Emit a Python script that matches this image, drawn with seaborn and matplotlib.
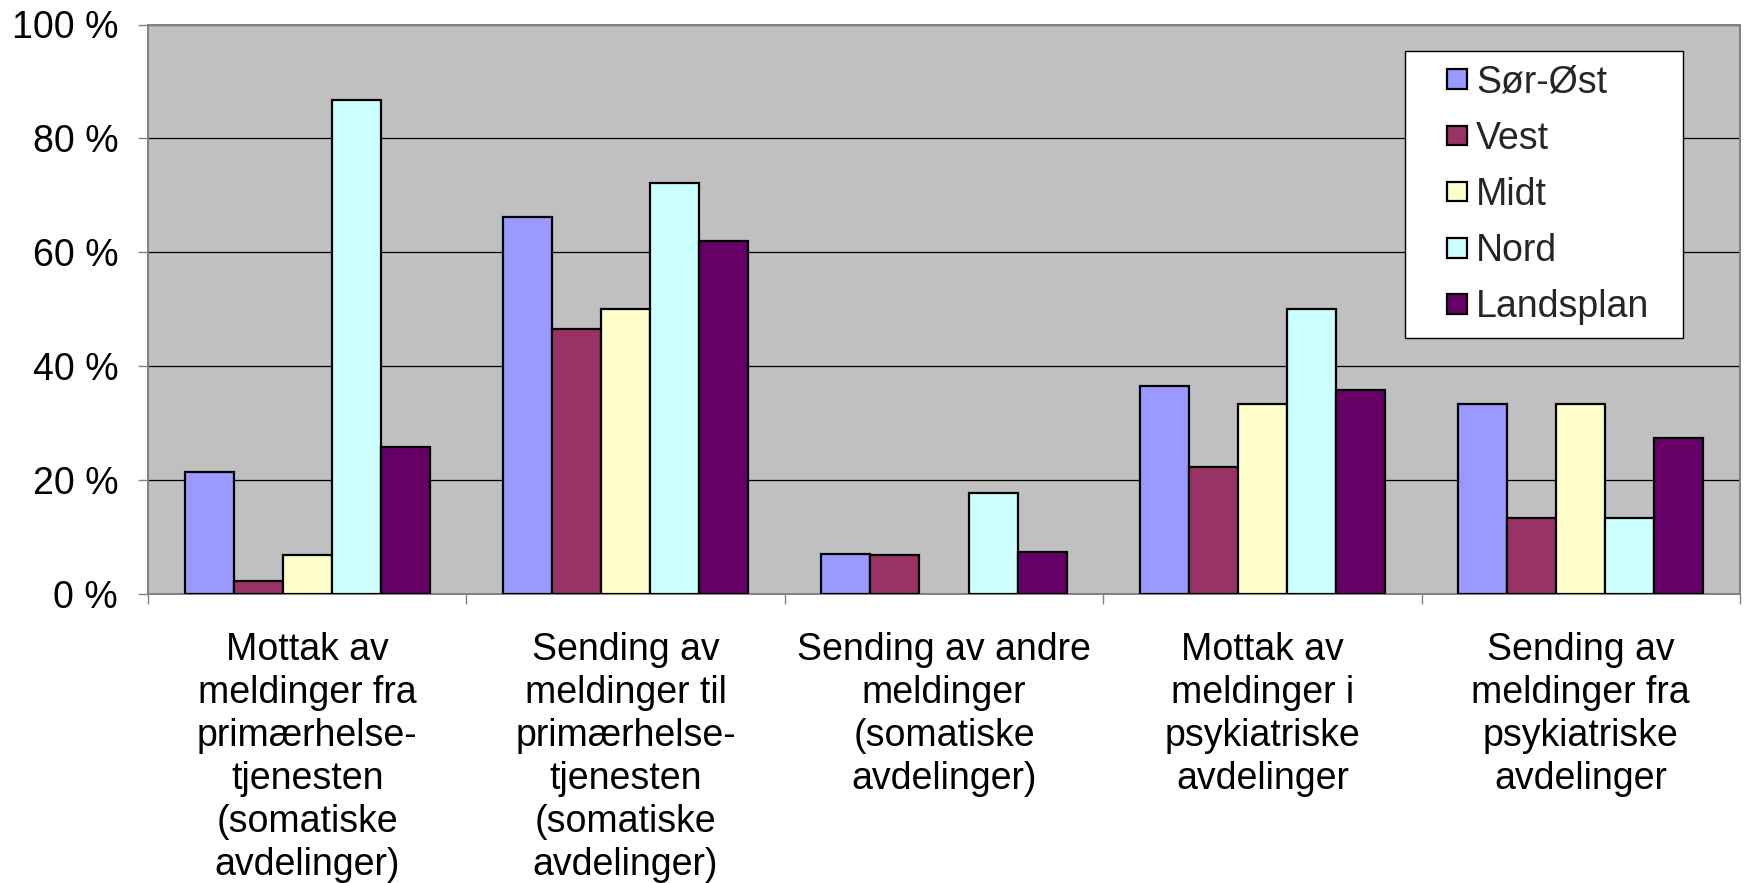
import matplotlib
matplotlib.use("Agg")
import matplotlib.pyplot as plt
from matplotlib.ticker import FixedLocator, FuncFormatter
from matplotlib.patches import Patch, Rectangle
from matplotlib.legend_handler import HandlerPatch
from matplotlib.container import BarContainer
import seaborn as sns
import pandas as pd

categories = [
    "Mottak av\nmeldinger fra\nprimærhelse-\ntjenesten\n(somatiske\navdelinger)",
    "Sending av\nmeldinger til\nprimærhelse-\ntjenesten\n(somatiske\navdelinger)",
    "Sending av andre\nmeldinger\n(somatiske\navdelinger)",
    "Mottak av\nmeldinger i\npsykiatriske\navdelinger",
    "Sending av\nmeldinger fra\npsykiatriske\navdelinger",
]
regions = ["Sør-Øst", "Vest", "Midt", "Nord", "Landsplan"]
sor_ost = [21.4, 66.1, 6.9, 36.4, 33.3]
vest = [2.2, 46.4, 6.7, 22.2, 13.3]
midt = [6.7, 50.0, 0.0, 33.3, 33.3]
nord = [86.7, 72.2, 17.6, 50.0, 13.3]
landsplan = [25.8, 62.0, 7.3, 35.7, 27.3]
colors = ["#9999FF", "#993366", "#FFFFCC", "#CCFFFF", "#660066"]

series = [sor_ost, vest, midt, nord, landsplan]
rows = []
for reg, vals in zip(regions, series):
    for cat, v in zip(categories, vals):
        rows.append({"kategori": cat, "region": reg, "andel": v})
df = pd.DataFrame(rows)

sns.set_theme(style="white")
plt.rcParams["font.family"] = ["Liberation Sans", "DejaVu Sans"]

FS = 27

fig = plt.figure(figsize=(17.46, 8.83), dpi=100)
ax = fig.add_axes([148 / 1746, 1 - 593.5 / 883, (1740 - 148) / 1746, (593.5 - 24.5) / 883])
ax.set_facecolor("#C0C0C0")

sns.barplot(data=df, x="kategori", y="andel", hue="region", order=categories,
            hue_order=regions, palette=colors, width=0.77, gap=0,
            edgecolor="black", linewidth=1.6, saturation=1, errorbar=None, ax=ax,
            zorder=3)
for p in ax.patches:
    if p.get_height() == 0:
        p.set_linewidth(0)

ax.set_xlim(-0.5, 4.5)
ax.set_ylim(0, 100)
ax.set_yticks([0, 20, 40, 60, 80, 100])
ax.yaxis.set_major_formatter(FuncFormatter(lambda v, _: f"{v:.0f} %"))
ax.yaxis.grid(True, color="black", linewidth=0.9, zorder=1)
ax.set_axisbelow(True)

ax.xaxis.set_minor_locator(FixedLocator([-0.5, 0.5, 1.5, 2.5, 3.5, 4.5]))
ax.tick_params(axis="x", which="major", length=0, pad=27.5, labelsize=FS, labelcolor="black")
ax.tick_params(axis="x", which="minor", length=7, width=1, color="#808080", direction="out", bottom=True)
ax.tick_params(axis="y", length=7.5, width=1, color="#808080", direction="out", left=True,
               pad=14, labelsize=FS, labelcolor="black")
for lbl in ax.get_xticklabels():
    lbl.set_linespacing(1.25)
    lbl.set_horizontalalignment("center")

for s in ax.spines.values():
    s.set_visible(True)
    s.set_color("#808080")
    s.set_linewidth(1.4)

ax.set_xlabel("")
ax.set_ylabel("")


class SquareKey(HandlerPatch):
    """Small square key drawn at the right end of the handle box."""

    def create_artists(self, legend, orig_handle, xdescent, ydescent,
                       width, height, fontsize, trans):
        size = 0.53 * fontsize
        x = -xdescent + width - size
        y = -ydescent + (height - size) / 2
        sq = Rectangle((x, y), size, size, facecolor=orig_handle.get_facecolor(),
                       edgecolor="black", linewidth=1.6, transform=trans)
        return [sq]


handles, labels = ax.get_legend_handles_labels()
keys = []
for h in handles:
    fc = h.patches[0].get_facecolor() if isinstance(h, BarContainer) else h.get_facecolor()
    keys.append(Patch(facecolor=fc, edgecolor="black"))

leg = ax.legend(keys, labels, loc="upper left",
                bbox_to_anchor=(0.7896, 0.5, 0.1746, 0.4534), mode="expand",
                borderaxespad=0, fontsize=FS, frameon=True, fancybox=False,
                edgecolor="black", facecolor="white", framealpha=1,
                handlelength=1.3, handleheight=0.7, handletextpad=0.24,
                labelspacing=0.535, borderpad=0.36,
                handler_map={Patch: SquareKey()})
leg.get_frame().set_linewidth(1.0)

fig.savefig("out.png", dpi=100)
